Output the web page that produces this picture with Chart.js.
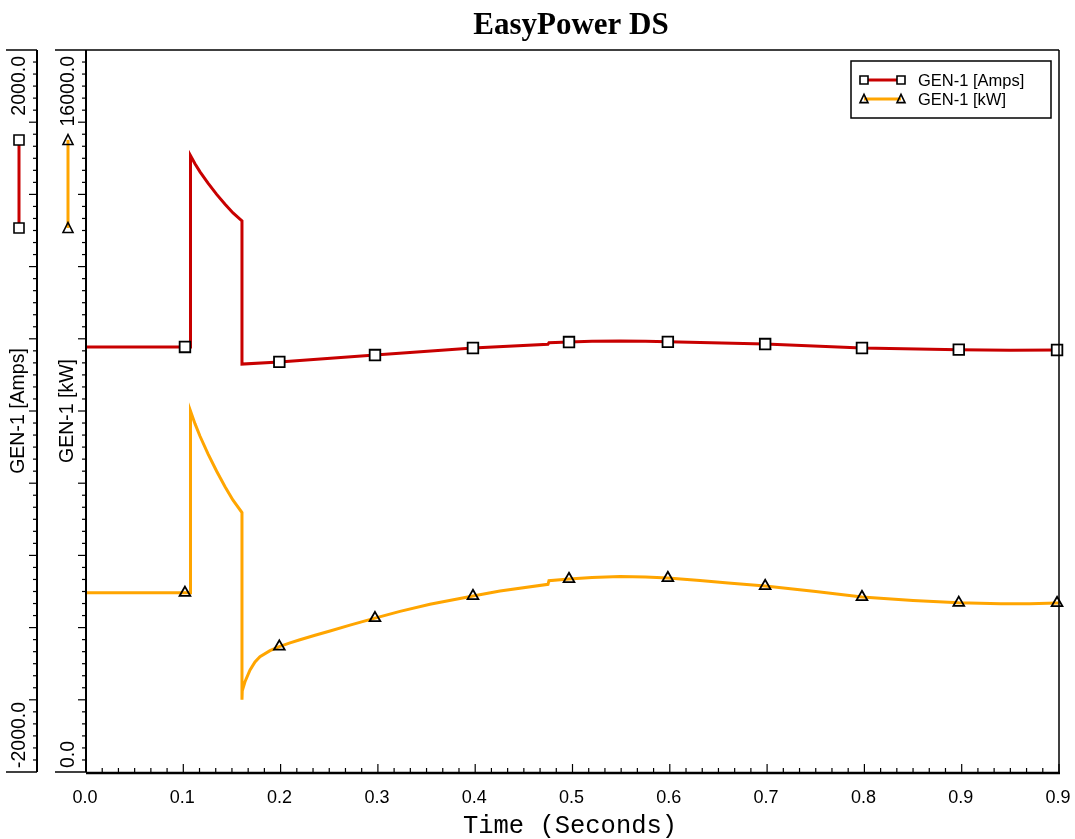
<!DOCTYPE html>
<html>
<head>
<meta charset="utf-8">
<title>EasyPower DS</title>
<script src="https://cdn.jsdelivr.net/npm/chart.js@4/dist/chart.umd.min.js"></script>
<style>
  html, body { margin: 0; padding: 0; background: #fff; }
  #wrap { width: 1075px; height: 839px; }
</style>
</head>
<body>
<div id="wrap"><canvas id="myChart" width="1075" height="839"></canvas></div>
<script>
// x axis (seconds) - last label really is printed as 0.9 in the original
const xTickValues = [0, 0.1, 0.2, 0.3, 0.4, 0.5, 0.6, 0.7, 0.8, 0.9, 1.0];
const xTickLabels = ['0.0', '0.1', '0.2', '0.3', '0.4', '0.5', '0.6', '0.7', '0.8', '0.9', '0.9'];

// y axes ranges + end labels
const ampsRange = [-2000, 2000];
const kwRange = [0, 16000];
const ampsEndLabels = ['-2000.0', '2000.0'];
const kwEndLabels = ['0.0', '16000.0'];

// GEN-1 [Amps]
const ampsTime = [0, 0.1017, 0.1074, 0.1074, 0.112, 0.1172, 0.1254, 0.1343, 0.1429, 0.1511, 0.1603,
  0.1603, 0.1987, 0.297, 0.3977, 0.4748, 0.4758, 0.4964, 0.52, 0.5488, 0.575, 0.598, 0.698,
  0.7975, 0.897, 0.95, 0.998, 1.0];
const ampsValues = [355, 355, 355, 1415, 1370, 1325, 1262, 1200, 1145, 1097, 1053,
  260, 272, 310, 349, 370, 378, 382, 386, 388, 386, 383, 371,
  349, 340, 337, 338, 338];

// GEN-1 [kW]
const kwTime = [0, 0.1017, 0.1074, 0.1074, 0.112, 0.1172, 0.1254, 0.1343, 0.1429, 0.1511, 0.1603,
  0.1603, 0.1606, 0.1634, 0.1686, 0.1737, 0.1788, 0.1891, 0.1987, 0.2097, 0.2199, 0.2354, 0.2508,
  0.2713, 0.297, 0.3227, 0.3535, 0.3977, 0.4255, 0.4748, 0.4758, 0.4964, 0.52, 0.5488, 0.575,
  0.598, 0.631, 0.66, 0.698, 0.75, 0.7975, 0.85, 0.897, 0.94, 0.97, 0.998, 1.0];
const kwValues = [3970, 3970, 3970, 8000, 7720, 7440, 7049, 6664, 6322, 6023, 5750,
  1600, 1800, 2000, 2260, 2440, 2555, 2690, 2780, 2860, 2930, 3030, 3125,
  3255, 3410, 3560, 3716, 3900, 4011, 4159, 4239, 4277, 4310, 4330, 4322,
  4299, 4245, 4190, 4122, 4000, 3878, 3800, 3750, 3728, 3730, 3745, 3745];

// where the symbols sit on the curves
const markerTimes = [0.1017, 0.1987, 0.297, 0.3977, 0.4964, 0.598, 0.698, 0.7975, 0.897, 0.998];

const RED = '#c80000';
const ORANGE = '#ffa500';
const SANS = "'Liberation Sans', Arial, sans-serif";

function toPoints(times, values) {
    return times.map((t, i) => ({ x: t, y: values[i] }));
}

function markerRadius(r) {
    return (c) => (c.raw && markerTimes.includes(c.raw.x)) ? r : 0;
}

function line(ctx, x1, y1, x2, y2) {
    ctx.beginPath();
    ctx.moveTo(x1, y1);
    ctx.lineTo(x2, y2);
    ctx.stroke();
}

function drawSymbol(ctx, style, x, y, size, fill) {
    ctx.save();
    ctx.strokeStyle = '#000';
    ctx.lineWidth = 1.6;
    ctx.beginPath();
    if (style === 'rect') {
        ctx.rect(x - size / 2, y - size / 2, size, size);
    } else {
        const h = size * 0.9;
        ctx.moveTo(x, y - h / 2 - 1);
        ctx.lineTo(x + size / 2, y + h / 2);
        ctx.lineTo(x - size / 2, y + h / 2);
        ctx.closePath();
    }
    if (fill) {
        ctx.fillStyle = fill;
        ctx.fill();
    }
    ctx.stroke();
    ctx.restore();
}

function rotText(ctx, text, x, y, align) {
    ctx.save();
    ctx.translate(x, y);
    ctx.rotate(-Math.PI / 2);
    ctx.textAlign = align;
    ctx.textBaseline = 'alphabetic';
    ctx.fillText(text, 0, 0);
    ctx.restore();
}

// draws the EasyPower style frame, axes, title and legend
const easyPowerPlugin = {
    id: 'easyPowerDecor',
    afterDraw(chart) {
        const { ctx, chartArea: a, scales } = chart;
        const xs = scales.x, yA = scales.yA, yK = scales.yK;

        ctx.save();
        ctx.strokeStyle = '#000';
        ctx.fillStyle = '#000';

        // title
        ctx.font = "bold 31px 'Liberation Serif', 'Times New Roman', serif";
        ctx.textAlign = 'center';
        ctx.textBaseline = 'alphabetic';
        ctx.fillText('EasyPower DS', 571, 34);

        // frame top / right
        ctx.lineWidth = 1.5;
        line(ctx, a.left, a.top, a.right, a.top);
        line(ctx, a.right, a.top, a.right, a.bottom);

        // x axis
        ctx.lineWidth = 2.5;
        line(ctx, a.left, a.bottom + 1, a.right + 1, a.bottom + 1);
        ctx.lineWidth = 1.2;
        for (let i = 0; i <= 60; i++) {
            const px = xs.getPixelForValue(xTickValues[0] + i * (xTickValues[1] - xTickValues[0]) / 6);
            line(ctx, px, a.bottom, px, a.bottom - (i % 6 === 0 ? 8 : 4));
        }
        ctx.font = '18px ' + SANS;
        ctx.textAlign = 'center';
        xTickValues.forEach((v, i) => {
            ctx.fillText(xTickLabels[i], xs.getPixelForValue(v) - 1, 803);
        });
        ctx.font = "25.5px 'Liberation Mono', 'Courier New', monospace";
        ctx.fillText('Time (Seconds)', 570, 833);

        // y axes, each with its own line, end caps, ticks and rotated labels
        const yAxes = [
            { s: yA, ax: 37, cap: 6, range: ampsRange, labels: ampsEndLabels, lx: 25, name: 'GEN-1 [Amps]' },
            { s: yK, ax: a.left, cap: 55, range: kwRange, labels: kwEndLabels, lx: 74, name: 'GEN-1 [kW]' }
        ];
        yAxes.forEach(ax => {
            const top = ax.s.getPixelForValue(ax.range[1]);
            const bot = ax.s.getPixelForValue(ax.range[0]);
            ctx.lineWidth = 2;
            line(ctx, ax.ax, top, ax.ax, bot);
            ctx.lineWidth = 1.5;
            line(ctx, ax.cap, top, ax.ax, top);
            line(ctx, ax.cap, bot, ax.ax, bot);
            ctx.lineWidth = 1.2;
            const step = (ax.range[1] - ax.range[0]) / 60;
            for (let i = 1; i < 60; i++) {
                const py = ax.s.getPixelForValue(ax.range[0] + i * step);
                line(ctx, ax.ax - (i % 6 === 0 ? 8 : 4), py, ax.ax, py);
            }
            ctx.font = '19.5px ' + SANS;
            rotText(ctx, ax.labels[1], ax.lx, top + 6, 'right');
            rotText(ctx, ax.labels[0], ax.lx, bot - 4, 'left');
            rotText(ctx, ax.name, ax.lx - 1, (top + bot) / 2, 'center');
        });

        // small series swatches next to the axes
        ctx.lineWidth = 3;
        ctx.strokeStyle = RED;
        line(ctx, 19, 140, 19, 228);
        ctx.strokeStyle = ORANGE;
        line(ctx, 68, 140, 68, 228);
        drawSymbol(ctx, 'rect', 19, 140, 10, '#fff');
        drawSymbol(ctx, 'rect', 19, 228, 10, '#fff');
        drawSymbol(ctx, 'triangle', 68, 140, 10, null);
        drawSymbol(ctx, 'triangle', 68, 228, 10, null);

        // legend
        ctx.fillStyle = '#fff';
        ctx.fillRect(851, 61, 200, 57);
        ctx.strokeStyle = '#000';
        ctx.lineWidth = 1.5;
        ctx.strokeRect(851, 61, 200, 57);
        const legendItems = [
            { label: 'GEN-1 [Amps]', color: RED, style: 'rect', y: 80 },
            { label: 'GEN-1 [kW]', color: ORANGE, style: 'triangle', y: 99 }
        ];
        legendItems.forEach(it => {
            ctx.strokeStyle = it.color;
            ctx.lineWidth = 3;
            line(ctx, 864, it.y, 901, it.y);
            drawSymbol(ctx, it.style, 864, it.y, 8, it.style === 'rect' ? '#fff' : null);
            drawSymbol(ctx, it.style, 901, it.y, 8, it.style === 'rect' ? '#fff' : null);
            ctx.fillStyle = '#000';
            ctx.font = '16.5px ' + SANS;
            ctx.textAlign = 'left';
            ctx.textBaseline = 'middle';
            ctx.fillText(it.label, 918, it.y + 1);
        });

        ctx.restore();
    }
};

const ctx = document.getElementById('myChart').getContext('2d');

const chartInstance = new Chart(ctx, {
    type: 'line',
    data: {
        datasets: [
            {
                label: 'GEN-1 [Amps]',
                data: toPoints(ampsTime, ampsValues),
                yAxisID: 'yA',
                borderColor: RED,
                borderWidth: 3,
                tension: 0,
                pointStyle: 'rect',
                pointRadius: markerRadius(7.5),
                pointBorderColor: '#000',
                pointBorderWidth: 1.8,
                pointBackgroundColor: '#fff',
                clip: false
            },
            {
                label: 'GEN-1 [kW]',
                data: toPoints(kwTime, kwValues),
                yAxisID: 'yK',
                borderColor: ORANGE,
                borderWidth: 3,
                tension: 0,
                pointStyle: 'triangle',
                pointRadius: markerRadius(6.2),
                pointBorderColor: '#000',
                pointBorderWidth: 1.8,
                pointBackgroundColor: 'rgba(255,255,255,0)',
                clip: false
            }
        ]
    },
    options: {
        responsive: false,
        animation: false,
        devicePixelRatio: 1,
        layout: {
            padding: { left: 86, right: 16, top: 50, bottom: 67 }
        },
        plugins: {
            legend: { display: false },
            title: { display: false },
            tooltip: { enabled: false }
        },
        scales: {
            x: { type: 'linear', min: xTickValues[0], max: xTickValues[xTickValues.length - 1], display: false },
            yA: { type: 'linear', position: 'left', min: ampsRange[0], max: ampsRange[1], display: false },
            yK: { type: 'linear', position: 'left', min: kwRange[0], max: kwRange[1], display: false }
        }
    },
    plugins: [easyPowerPlugin]
});
</script>
</body>
</html>
